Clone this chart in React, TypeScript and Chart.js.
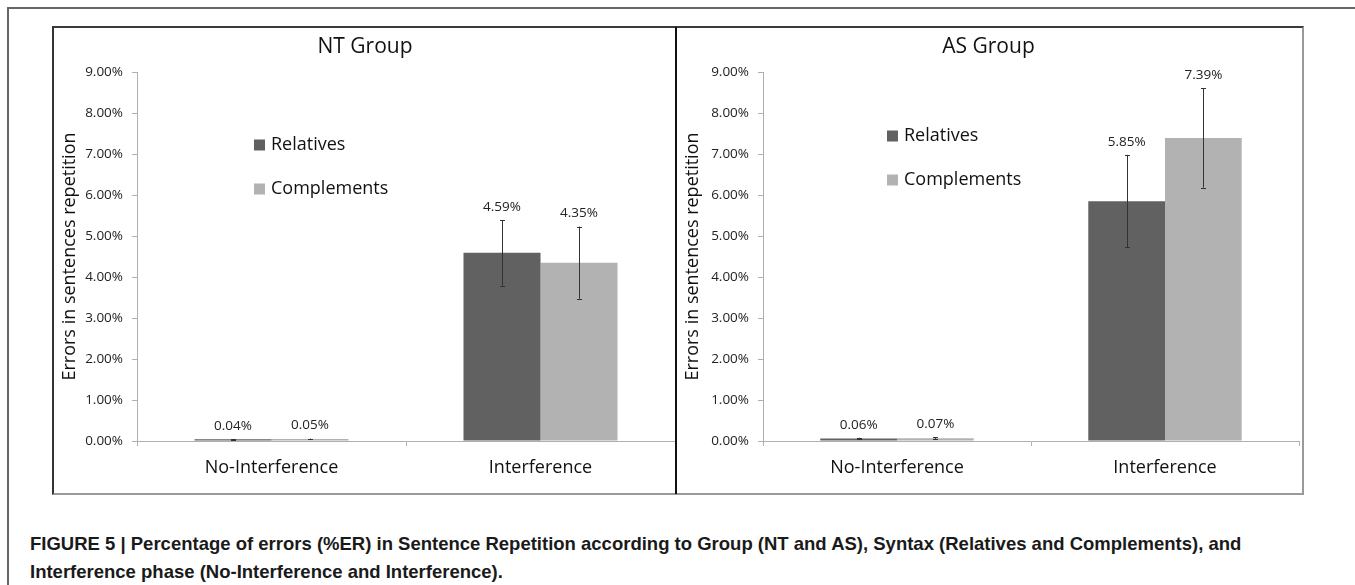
import React, { useEffect, useRef } from 'react';
import { Chart, registerables } from 'chart.js';

Chart.register(...registerables);

// ---------- data ----------
const categories = ['No-Interference', 'Interference'];
const seriesNames = ['Relatives', 'Complements'];
const seriesColors = ['#616161', '#b2b2b2'];

const ntRelatives = [0.04, 4.59];
const ntComplements = [0.05, 4.35];
const ntRelativesErr = [0.01, 0.8];
const ntComplementsErr = [0.01, 0.88];

const asRelatives = [0.06, 5.85];
const asComplements = [0.07, 7.39];
const asRelativesErr = [0.02, 1.13];
const asComplementsErr = [0.02, 1.21];

const yMin = 0;
const yMax = 9;
const yStep = 1;
const yTitle = 'Errors in sentences repetition';
const ntTitle = 'NT Group';
const asTitle = 'AS Group';
const captionLine1 =
  'FIGURE 5 | Percentage of errors (%ER) in Sentence Repetition according to Group (NT and AS), Syntax (Relatives and Complements), and';
const captionLine2 = 'Interference phase (No-Interference and Interference).';

const FONT = '"Open Sans", "DejaVu Sans", sans-serif';

const errorBarPlugin = {
  id: 'errorBarsAndLabels',
  afterDatasetsDraw(chart: any) {
    const { ctx } = chart;
    const yScale = chart.scales.y;
    chart.data.datasets.forEach((ds: any, di: number) => {
      const meta = chart.getDatasetMeta(di);
      meta.data.forEach((bar: any, i: number) => {
        const v = ds.data[i];
        const e = ds.errors[i];
        const x = Math.round(bar.x) + 0.5;
        const yTop = yScale.getPixelForValue(v + e);
        const yBot = yScale.getPixelForValue(Math.max(0, v - e));
        ctx.save();
        ctx.strokeStyle = '#333333';
        ctx.lineWidth = 1;
        ctx.beginPath();
        ctx.moveTo(x, yTop);
        ctx.lineTo(x, yBot);
        ctx.moveTo(x - 2.5, Math.round(yTop) + 0.5);
        ctx.lineTo(x + 2.5, Math.round(yTop) + 0.5);
        ctx.moveTo(x - 2.5, Math.round(yBot) + 0.5);
        ctx.lineTo(x + 2.5, Math.round(yBot) + 0.5);
        ctx.stroke();
        ctx.fillStyle = '#222222';
        ctx.font = `13.5px ${FONT}`;
        ctx.textAlign = 'center';
        ctx.textBaseline = 'middle';
        ctx.fillText(v.toFixed(2) + '%', bar.x, yTop - 13);
        ctx.restore();
      });
    });
  },
};

const legendPlugin = {
  id: 'innerLegend',
  afterDraw(chart: any, _args: any, opts: any) {
    const { ctx, chartArea } = chart;
    const x0 = chartArea.left + opts.dx;
    const y0 = chartArea.top + opts.dy;
    chart.data.datasets.forEach((ds: any, i: number) => {
      const cy = y0 + i * opts.gap;
      ctx.save();
      ctx.fillStyle = ds.backgroundColor;
      ctx.fillRect(x0, cy - 5.5, 11, 11);
      ctx.fillStyle = '#111111';
      ctx.font = `18px ${FONT}`;
      ctx.textAlign = 'left';
      ctx.textBaseline = 'middle';
      ctx.fillText(ds.label, x0 + 17, cy);
      ctx.restore();
    });
  },
};

function makeConfig(
  title: string,
  rel: number[],
  comp: number[],
  relErr: number[],
  compErr: number[],
  yWidth: number,
  padRight: number,
  legendDx: number,
  legendDy: number
): any {
  return {
    type: 'bar',
    data: {
      labels: categories,
      datasets: [
        {
          label: seriesNames[0],
          data: rel,
          errors: relErr,
          backgroundColor: seriesColors[0],
          borderWidth: 0,
        },
        {
          label: seriesNames[1],
          data: comp,
          errors: compErr,
          backgroundColor: seriesColors[1],
          borderWidth: 0,
        },
      ],
    },
    options: {
      responsive: false,
      animation: false,
      devicePixelRatio: 1,
      layout: { padding: { top: 0, right: padRight, bottom: 0, left: 0 } },
      datasets: { bar: { categoryPercentage: 0.5725, barPercentage: 1 } },
      plugins: {
        legend: { display: false },
        tooltip: { enabled: false },
        title: {
          display: true,
          text: title,
          color: '#111111',
          font: { family: FONT, size: 21, weight: 'normal' },
          padding: { top: 5, bottom: 12.8 },
        },
        innerLegend: { dx: legendDx, dy: legendDy, gap: 44 },
      },
      scales: {
        x: {
          afterFit: (s: any) => {
            s.height = 52;
          },
          grid: {
            display: true,
            offset: true,
            drawOnChartArea: false,
            drawTicks: true,
            tickLength: 5,
            color: '#b0b0b0',
          },
          border: { display: true, color: '#b0b0b0' },
          ticks: {
            color: '#111111',
            font: { family: FONT, size: 18 },
            padding: 11,
          },
        },
        y: {
          min: yMin,
          max: yMax,
          afterFit: (s: any) => {
            s.width = yWidth;
          },
          grid: {
            display: true,
            drawOnChartArea: false,
            drawTicks: true,
            tickLength: 5,
            color: '#b0b0b0',
          },
          border: { display: true, color: '#b0b0b0' },
          ticks: {
            stepSize: yStep,
            color: '#222222',
            padding: 9,
            font: { family: FONT, size: 13.5 },
            callback: (v: any) => Number(v).toFixed(2) + '%',
          },
          title: {
            display: true,
            text: yTitle,
            color: '#111111',
            font: { family: FONT, size: 18 },
            padding: { top: 4, bottom: 0 },
          },
        },
      },
    },
    plugins: [errorBarPlugin, legendPlugin],
  };
}

function Panel(props: { config: any; left: number; top: number; width: number; height: number }) {
  const ref = useRef<HTMLCanvasElement | null>(null);
  useEffect(() => {
    if (!ref.current) return;
    const chart = new Chart(ref.current, props.config);
    return () => chart.destroy();
  }, []);
  return (
    <canvas
      ref={ref}
      width={props.width}
      height={props.height}
      style={{
        position: 'absolute',
        left: props.left,
        top: props.top,
        width: props.width,
        height: props.height,
      }}
    />
  );
}

export default function App() {
  const ntConfig = makeConfig(ntTitle, ntRelatives, ntComplements, ntRelativesErr, ntComplementsErr, 82, 1, 117, 73);
  const asConfig = makeConfig(asTitle, asRelatives, asComplements, asRelativesErr, asComplementsErr, 85, 2, 124, 64);
  return (
    <div
      style={{
        position: 'fixed',
        left: 0,
        top: 0,
        width: 1355,
        height: 585,
        overflow: 'hidden',
        background: '#ffffff',
      }}
    >
      {/* outer frame */}
      <div
        style={{
          position: 'absolute',
          left: 7,
          top: 7,
          width: 1400,
          height: 700,
          borderLeft: '2px solid #666666',
          borderTop: '2px solid #666666',
          boxSizing: 'border-box',
        }}
      />
      {/* panel box */}
      <div
        style={{
          position: 'absolute',
          left: 52,
          top: 26,
          width: 1252,
          height: 469,
          borderLeft: '2px solid #333333',
          borderTop: '2px solid #3a3a3a',
          borderRight: '2px solid #999999',
          borderBottom: '2px solid #999999',
          boxSizing: 'border-box',
        }}
      />
      <Panel config={ntConfig} left={55} top={29} width={621} height={464} />
      <Panel config={asConfig} left={678} top={29} width={623} height={464} />
      {/* divider */}
      <div
        style={{
          position: 'absolute',
          left: 675,
          top: 27,
          width: 2,
          height: 467,
          background: '#111111',
        }}
      />
      <div
        style={{
          position: 'absolute',
          left: 30,
          top: 530,
          fontFamily: '"Liberation Sans", Arial, sans-serif',
          fontWeight: 'bold',
          fontSize: 18.5,
          lineHeight: '28px',
          color: '#1a1a1a',
          whiteSpace: 'nowrap',
        }}
      >
        <div>{captionLine1}</div>
        <div>{captionLine2}</div>
      </div>
    </div>
  );
}
